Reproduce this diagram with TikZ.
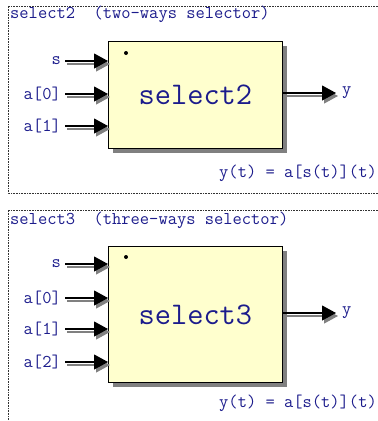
\documentclass[tikz,border=0pt]{standalone}
\usepackage{fontspec}
\usetikzlibrary{arrows.meta}
\definecolor{sigblue}{RGB}{28,28,140}
\definecolor{boxfill}{RGB}{255,255,206}
\definecolor{shade}{RGB}{128,128,128}
\tikzset{
  frameline/.style={densely dotted, line width=0.6pt, black!80},
  sigtext/.style={text=sigblue, font=\fontsize{18}{20}\selectfont\ttfamily, inner sep=0pt},
  blockbox/.style={draw=black, fill=boxfill, line width=0.8pt, inner sep=0pt,
    minimum width=174pt, text=sigblue, font=\fontsize{31.5}{33}\selectfont\ttfamily},
  boxshadow/.style={fill=shade},
  sig/.style={line width=1.1pt, -{Triangle[length=14pt,width=15pt]}},
  sigshadow/.style={sig, color=shade, transform canvas={shift={(2pt,-3pt)}}}
}
\begin{document}
\begin{tikzpicture}[x=1pt,y=-1pt]
  \useasboundingbox (0,0) rectangle (378,421);

  % two-ways selector
  \draw [frameline] (378,6) -- (8,6) -- (8,193) -- (378,193);
  \node [sigtext, anchor=base west] (title2) at (10,18) {select2\ \ (two-ways selector)};
  \fill [boxshadow] (113,46) rectangle (287,153);
  \node [blockbox, minimum height=107pt, anchor=north west] (box2) at (108,41) {select2};
  \fill (126,53) circle (2pt);
  \foreach \lbl/\yy [count=\i] in {s/61, a[0]/94, a[1]/126} {
    \node [sigtext, anchor=east] (in2-\i) at (61,\yy) {\lbl};
    \coordinate (in2-\i-a) at (65,\yy);
    \draw [sigshadow] (in2-\i-a) -- (in2-\i-a -| box2.west);
    \draw [sig] (in2-\i-a) -- (in2-\i-a -| box2.west);
  }
  \coordinate (out2-a) at (box2.east |- 0,93);
  \coordinate (out2-b) at (336,93);
  \draw [sigshadow] (out2-a) -- (out2-b);
  \draw [sig] (out2-a) -- (out2-b);
  \node [sigtext, anchor=west] (out2) at (342,93) {y};
  \node [sigtext, anchor=east] (eq2) at (377,173) {y(t) = a[s(t)](t)};

  % three-ways selector
  \draw [frameline] (378,210) -- (8,210) -- (8,421);
  \node [sigtext, anchor=base west] (title3) at (10,224) {select3\ \ (three-ways selector)};
  \fill [boxshadow] (113,251) rectangle (287,387);
  \node [blockbox, minimum height=136pt, anchor=north west] (box3) at (108,246) {select3};
  \fill (126,257) circle (2pt);
  \foreach \lbl/\yy [count=\i] in {s/264, a[0]/298, a[1]/329, a[2]/362} {
    \node [sigtext, anchor=east] (in3-\i) at (61,\yy) {\lbl};
    \coordinate (in3-\i-a) at (65,\yy);
    \draw [sigshadow] (in3-\i-a) -- (in3-\i-a -| box3.west);
    \draw [sig] (in3-\i-a) -- (in3-\i-a -| box3.west);
  }
  \coordinate (out3-a) at (box3.east |- 0,313);
  \coordinate (out3-b) at (336,313);
  \draw [sigshadow] (out3-a) -- (out3-b);
  \draw [sig] (out3-a) -- (out3-b);
  \node [sigtext, anchor=west] (out3) at (342,313) {y};
  \node [sigtext, anchor=east] (eq3) at (377,403) {y(t) = a[s(t)](t)};
\end{tikzpicture}
\end{document}
